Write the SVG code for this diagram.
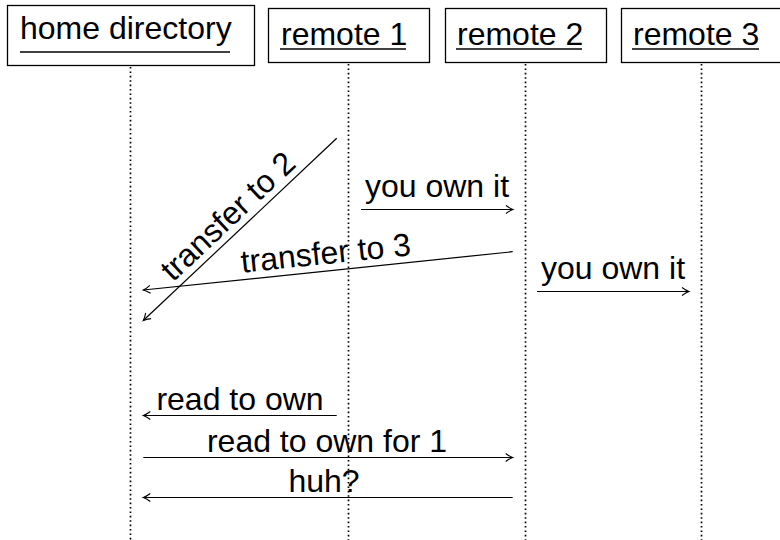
<svg xmlns="http://www.w3.org/2000/svg" width="780" height="540" viewBox="0 0 780 540">
<style>
text{font-family:"Liberation Sans",Arial,sans-serif;font-size:32px;fill:#000}
.box{fill:#fff;stroke:#000;stroke-width:1.3}
.ul{stroke:#000;stroke-width:1.3}
.life{stroke:#000;stroke-width:1.7;stroke-dasharray:1.6 2.8;fill:none}
.msg{stroke:#000;stroke-width:1.2;fill:none;marker-end:url(#arr)}
</style>
<defs>
<marker id="arr" markerUnits="userSpaceOnUse" orient="auto" refX="0" refY="0" markerWidth="12" markerHeight="12" overflow="visible">
<path d="M-7,-4 Q-3,-1 0,0 Q-3,1 -7,4" fill="none" stroke="#000" stroke-width="1.1"/>
</marker>
</defs>
<rect width="780" height="540" fill="#fff"/>
<g id="lifelines">
<line class="life" x1="130.5" y1="67" x2="130.5" y2="540"/>
<line class="life" x1="348.5" y1="64" x2="348.5" y2="540"/>
<line class="life" x1="525.5" y1="64" x2="525.5" y2="540"/>
<line class="life" x1="701.5" y1="64" x2="701.5" y2="540"/>
</g>
<g id="home">
<rect class="box" x="7.5" y="5.5" width="247" height="60"/>
<text x="20" y="39">home directory</text>
<line class="ul" x1="20" y1="52" x2="230" y2="52"/>
</g>
<g id="remote1">
<rect class="box" x="268.5" y="8.5" width="161" height="54"/>
<text x="281" y="45">remote 1</text>
<line class="ul" x1="280" y1="49" x2="406" y2="49"/>
</g>
<g id="remote2">
<rect class="box" x="445.5" y="8.5" width="161" height="54"/>
<text x="457" y="45">remote 2</text>
<line class="ul" x1="456" y1="49" x2="582" y2="49"/>
</g>
<g id="remote3">
<rect class="box" x="621.5" y="8.5" width="161" height="54"/>
<text x="633" y="45">remote 3</text>
<line class="ul" x1="632" y1="49" x2="759" y2="49"/>
</g>
<g id="connectors">
<line class="msg" x1="336.7" y1="138.3" x2="143.3" y2="320.5"/>
<text transform="translate(235.2,224.1) rotate(-43.2)" text-anchor="middle">transfer to 2</text>
<line class="msg" x1="361" y1="209.5" x2="513" y2="209.5"/>
<text x="437" y="197" text-anchor="middle">you own it</text>
<line class="msg" x1="512.7" y1="251.7" x2="143.3" y2="290"/>
<text transform="translate(326.8,263.9) rotate(-5.93)" text-anchor="middle">transfer to 3</text>
<line class="msg" x1="537" y1="291.5" x2="689" y2="291.5"/>
<text x="613" y="279" text-anchor="middle">you own it</text>
<line class="msg" x1="336.7" y1="415.5" x2="143.3" y2="415.5"/>
<text x="240" y="410" text-anchor="middle">read to own</text>
<line class="msg" x1="143.3" y1="457.5" x2="512.7" y2="457.5"/>
<text x="327" y="451.5" text-anchor="middle">read to own for 1</text>
<line class="msg" x1="512.7" y1="497.5" x2="143.3" y2="497.5"/>
<text x="324" y="491.5" text-anchor="middle">huh?</text>
</g>
</svg>
